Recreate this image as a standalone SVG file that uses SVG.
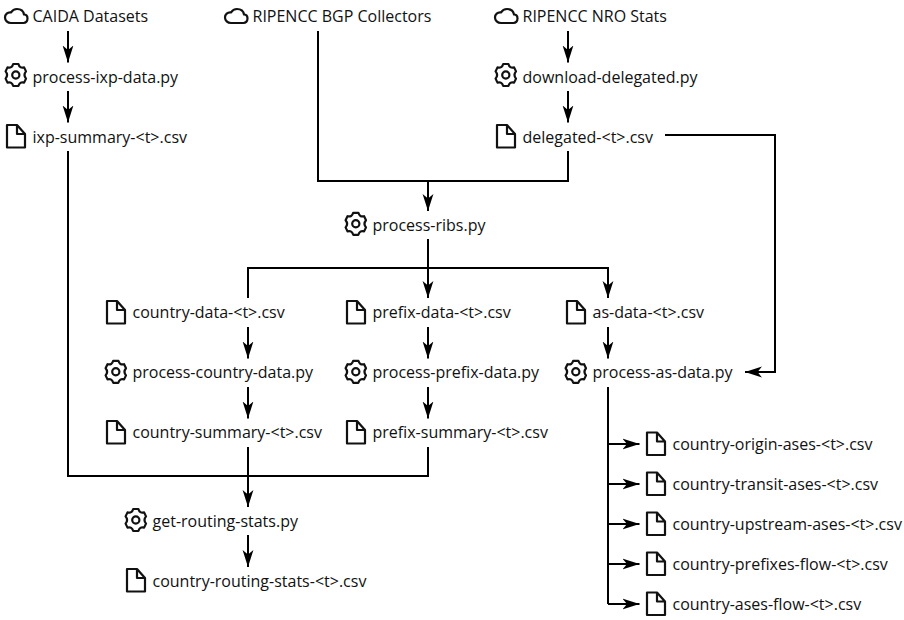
<svg xmlns="http://www.w3.org/2000/svg" width="904" height="620" viewBox="0 0 904 620">
<style>
text{font-family:"Open Sans","Noto Sans",sans-serif;font-size:16px;fill:#111}
.i{fill:none;stroke:#111;stroke-width:2.2;stroke-linejoin:round;stroke-linecap:round}
.c{fill:none;stroke:#000;stroke-width:2}
</style>
<defs>
<marker id="a" markerUnits="userSpaceOnUse" markerWidth="17" markerHeight="16" viewBox="0 0 17 16" refX="17" refY="8" orient="auto"><path d="M0,2.6 L17,8 L0,13.4 L4.5,8Z" fill="#000"/></marker>
<g id="cloud"><path class="i" d="M6,0 C2.5,0 0,-2.5 0,-5.5 C0,-8.5 2.5,-11 6,-10.5 C7.5,-13 10,-14 12,-14 C16,-14 18.5,-11.5 19,-8.5 C21.5,-8.5 22.5,-6.5 22.5,-4.5 C22.5,-1.5 20.5,0 18.5,0Z"/></g>
<g id="gear"><path class="i" d="M-2.6,-11 L2.6,-11 Q3.8,-6.4 8.3,-7.6 L10.2,-3.6 Q7.2,0 10.2,3.6 L8.3,7.6 Q3.8,6.4 2.6,11 L-2.6,11 Q-3.8,6.4 -8.3,7.6 L-10.2,3.6 Q-7.2,0 -10.2,-3.6 L-8.3,-7.6 Q-3.8,-6.4 -2.6,-11Z"/><circle class="i" r="3.6"/></g>
<g id="file"><path class="i" d="M0,0 H10 L18,9 V22.5 H0Z M10,0 V9 H18"/></g>
</defs>
<g id="connectors">
<path class="c" marker-end="url(#a)" d="M68,31V62.5"/>
<path class="c" marker-end="url(#a)" d="M68,91V122.5"/>
<path class="c" marker-end="url(#a)" d="M568,31V62.5"/>
<path class="c" marker-end="url(#a)" d="M568,91V122.5"/>
<path class="c" d="M318,31V181H568V151"/>
<path class="c" marker-end="url(#a)" d="M428,181V211"/>
<path class="c" marker-end="url(#a)" d="M665,135H775V372H745"/>
<path class="c" d="M428,239V268"/>
<path class="c" marker-end="url(#a)" d="M428,268V298"/>
<path class="c" marker-end="url(#a)" d="M248,298V268H608V298"/>
<path class="c" marker-end="url(#a)" d="M248,327V358.5"/>
<path class="c" marker-end="url(#a)" d="M428,327V358.5"/>
<path class="c" marker-end="url(#a)" d="M608,327V358.5"/>
<path class="c" marker-end="url(#a)" d="M248,387V418.5"/>
<path class="c" marker-end="url(#a)" d="M428,387V418.5"/>
<path class="c" d="M68,151V476H428V447"/>
<path class="c" marker-end="url(#a)" d="M248,447V507"/>
<path class="c" marker-end="url(#a)" d="M248,535V567"/>
<path class="c" d="M608,387V604"/>
<path class="c" marker-end="url(#a)" d="M608,444H639.5"/>
<path class="c" marker-end="url(#a)" d="M608,484H639.5"/>
<path class="c" marker-end="url(#a)" d="M608,524H639.5"/>
<path class="c" marker-end="url(#a)" d="M608,564H639.5"/>
<path class="c" marker-end="url(#a)" d="M608,604H639.5"/>
</g>
<g id="n1"><use href="#cloud" x="5" y="23"/><text x="32.5" y="22">CAIDA Datasets</text></g>
<g id="n2"><use href="#cloud" x="225" y="23"/><text x="252.5" y="22">RIPENCC BGP Collectors</text></g>
<g id="n3"><use href="#cloud" x="495" y="23"/><text x="522.5" y="22">RIPENCC NRO Stats</text></g>
<g id="n4"><use href="#gear" x="15.8" y="75"/><text x="32.5" y="83">process-ixp-data.py</text></g>
<g id="n5"><use href="#gear" x="505.8" y="75"/><text x="522.5" y="83">download-delegated.py</text></g>
<g id="n6"><use href="#file" x="7" y="125"/><text x="32.5" y="143">ixp-summary-&lt;t&gt;.csv</text></g>
<g id="n7"><use href="#file" x="497" y="125"/><text x="522.5" y="143">delegated-&lt;t&gt;.csv</text></g>
<g id="n8"><use href="#gear" x="355.8" y="223.8"/><text x="372.5" y="231">process-ribs.py</text></g>
<g id="n9"><use href="#file" x="107" y="301"/><text x="132.5" y="318">country-data-&lt;t&gt;.csv</text></g>
<g id="n10"><use href="#file" x="347" y="301"/><text x="372.5" y="318">prefix-data-&lt;t&gt;.csv</text></g>
<g id="n11"><use href="#file" x="567" y="301"/><text x="592.5" y="318">as-data-&lt;t&gt;.csv</text></g>
<g id="n12"><use href="#gear" x="115.8" y="371.8"/><text x="132.5" y="378">process-country-data.py</text></g>
<g id="n13"><use href="#gear" x="355.8" y="371.8"/><text x="372.5" y="378">process-prefix-data.py</text></g>
<g id="n14"><use href="#gear" x="575.8" y="371.8"/><text x="592.5" y="378">process-as-data.py</text></g>
<g id="n15"><use href="#file" x="107" y="421"/><text x="132.5" y="438">country-summary-&lt;t&gt;.csv</text></g>
<g id="n16"><use href="#file" x="347" y="421"/><text x="372.5" y="438">prefix-summary-&lt;t&gt;.csv</text></g>
<g id="n17"><use href="#gear" x="135.8" y="520"/><text x="152.5" y="527">get-routing-stats.py</text></g>
<g id="n18"><use href="#file" x="127" y="569"/><text x="152.5" y="587">country-routing-stats-&lt;t&gt;.csv</text></g>
<g id="n19"><use href="#file" x="647" y="432.5"/><text x="672.5" y="450">country-origin-ases-&lt;t&gt;.csv</text></g>
<g id="n20"><use href="#file" x="647" y="472.5"/><text x="672.5" y="490">country-transit-ases-&lt;t&gt;.csv</text></g>
<g id="n21"><use href="#file" x="647" y="512.5"/><text x="672.5" y="530">country-upstream-ases-&lt;t&gt;.csv</text></g>
<g id="n22"><use href="#file" x="647" y="552.5"/><text x="672.5" y="570">country-prefixes-flow-&lt;t&gt;.csv</text></g>
<g id="n23"><use href="#file" x="647" y="592.5"/><text x="672.5" y="610">country-ases-flow-&lt;t&gt;.csv</text></g>
</svg>
